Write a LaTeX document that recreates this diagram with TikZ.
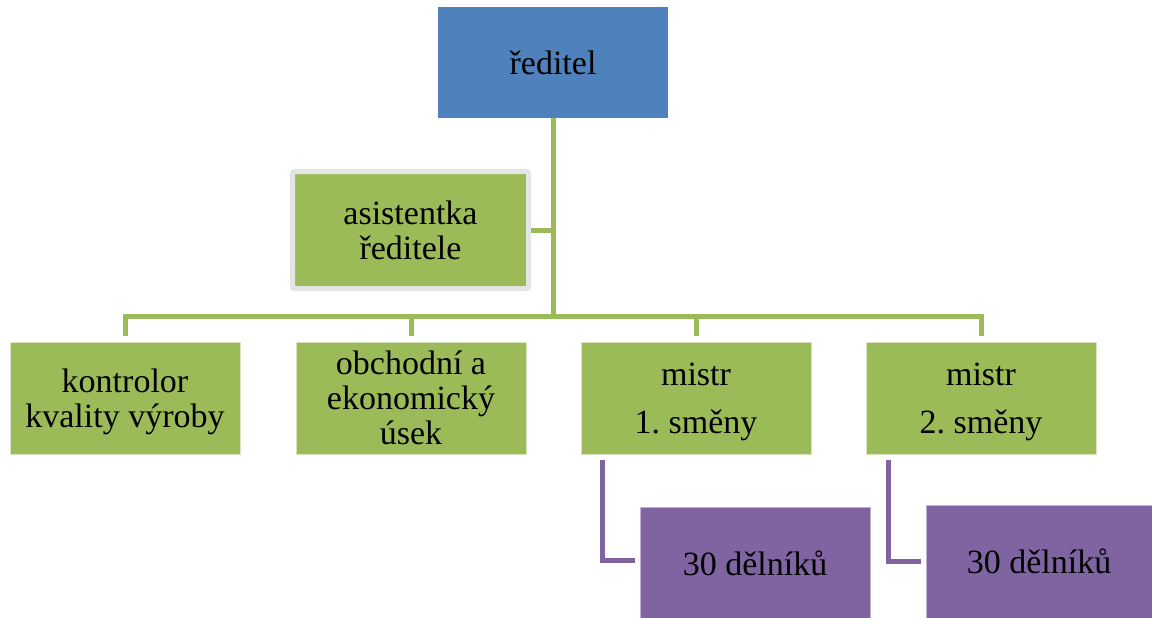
\documentclass[tikz,border=0pt]{standalone}
\usepackage{fontspec}
\setmainfont{Liberation Serif}
\usetikzlibrary{positioning}
\definecolor{bossblue}{HTML}{4F81BD}
\definecolor{unitgreen}{HTML}{9BBB59}
\definecolor{crewviolet}{HTML}{8064A2}
\definecolor{framegray}{HTML}{E4E4E4}

\begin{document}
\begin{tikzpicture}[
    x=1pt, y=-1pt,
    every node/.style={
        inner sep=0pt,
        align=center,
        font=\rmfamily\fontsize{34}{35}\selectfont
    },
    unit/.style={
        fill=unitgreen, draw=unitgreen!40!white, line width=0.8pt,
        minimum width=230pt, minimum height=112pt, text depth=0pt
    },
    crew/.style={
        fill=crewviolet, draw=crewviolet!50!white, line width=0.6pt,
        minimum height=113pt
    },
    link/.style={draw=unitgreen, line width=5pt},
    sublink/.style={draw=crewviolet, line width=5pt, shorten >=5pt}
]
\useasboundingbox (0,0) rectangle (1152,618);

% top of the chart
\node[fill=bossblue, minimum width=230pt, minimum height=111pt]
    (boss) at (553,62.5) {ředitel};
\node[fill=unitgreen, draw=framegray, line width=5pt, rounded corners=2pt,
      minimum width=236pt, minimum height=117pt]
    (asst) at (410.5,230) {asistentka\\ředitele};
\coordinate (hub) at (553,316);

% departments
\node[unit] (kval) at (125,398) {kontrolor\\kvality výroby};
\node[unit] (obch) at (411,398) {obchodní a\\ekonomický\\úsek};
\node[unit] (mis1) at (696,398) {mistr\\[13pt]1.~směny};
\node[unit] (mis2) at (981,398) {mistr\\[13pt]2.~směny};

% workers
\node[crew, minimum width=230pt] (wrk1) at (755,563.5) {30 dělníků};
\node[crew, minimum width=226pt] (wrk2) at (1039,561.5) {30 dělníků};

% connectors
\draw[link] (boss.south) -- (hub);
\draw[link] (asst.east) -- (asst.east -| hub);
\foreach \dep in {kval,obch,mis1,mis2}
    \draw[link, shorten >=6pt] (hub) -| (\dep.north);
\draw[sublink] ([xshift=-94pt,yshift=-6pt]mis1.south) |- ([yshift=3pt]wrk1.west);
\draw[sublink] ([xshift=-93pt,yshift=-6pt]mis2.south) |- (wrk2.west);
\end{tikzpicture}
\end{document}
